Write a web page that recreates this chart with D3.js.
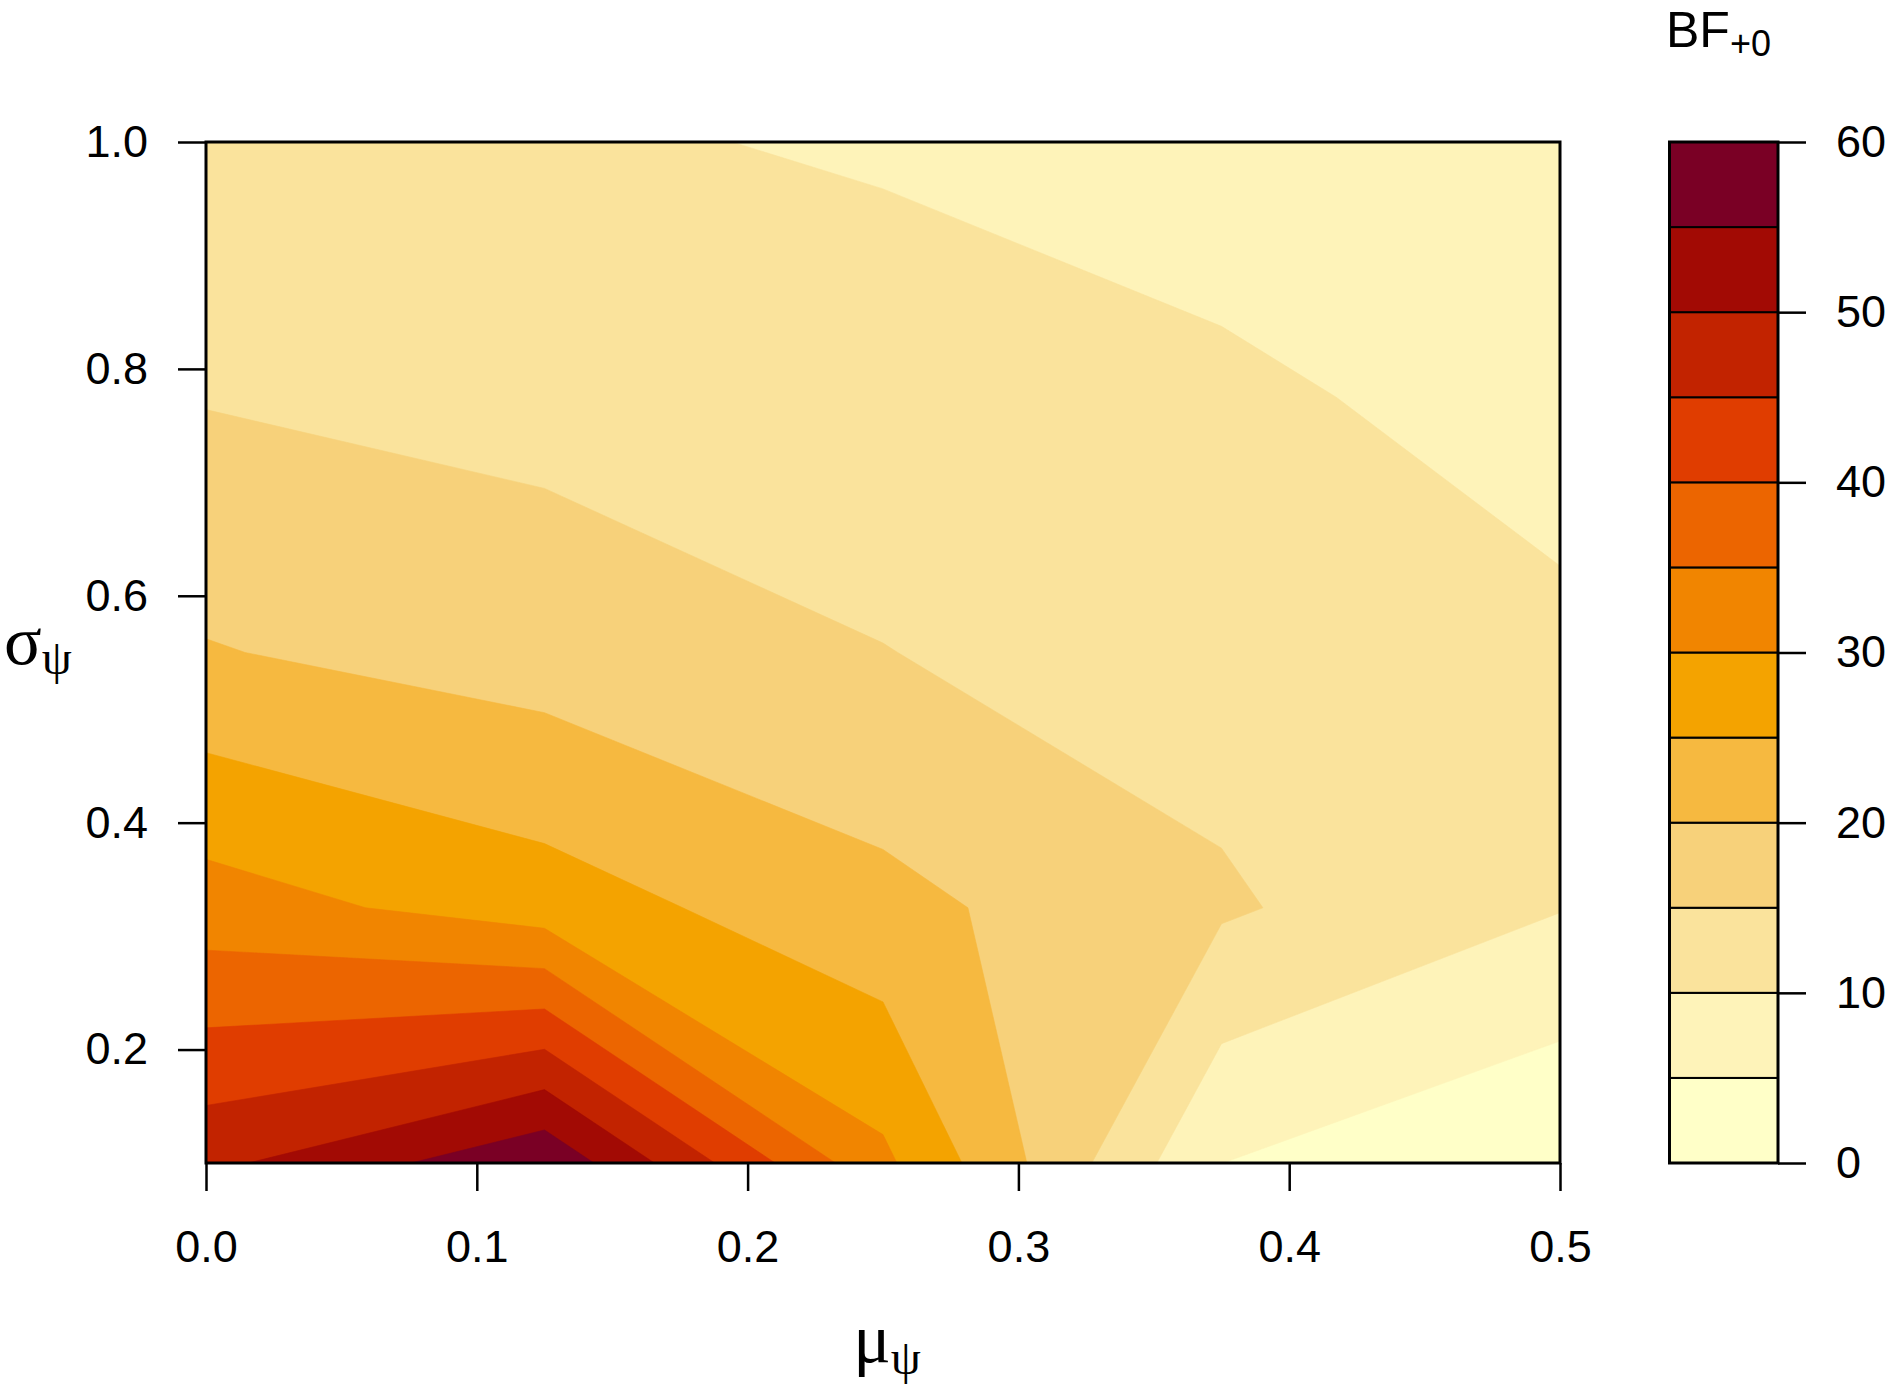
<!DOCTYPE html>
<html><head><meta charset="utf-8">
<script src="https://cdn.jsdelivr.net/npm/d3@7"></script>
<style>
html,body{margin:0;padding:0;background:#fff;}
svg{display:block;}
text{font-family:"Liberation Sans",Arial,sans-serif;fill:#000;}
.greek{font-family:"Liberation Serif","DejaVu Serif",serif;}
</style></head><body>
<svg id="chart" width="1890" height="1388"></svg>
<script>
// grid of the surface: mu (x) and sigma (y)
const muValues = [0, 0.125, 0.25, 0.375, 0.5];
const sigmaValues = [0.1, 0.325, 0.55, 0.775, 1.0];
// BF+0 values along mu, one array per sigma row
const bfSigma0100 = [48.7, 59.1, 31.07, 5.02, 0.25];
const bfSigma0325 = [32.27, 27.45, 21.45, 15.67, 10.19];
const bfSigma0550 = [20.3, 17.7, 15.1, 12.8, 11.0];
const bfSigma0775 = [14.73, 13.5, 12.4, 11.0, 8.05];
const bfSigma1000 = [12.0, 10.67, 9.46, 7.4, 6.5];
// contour levels and band colours (low to high)
const levels = [0, 5, 10, 15, 20, 25, 30, 35, 40, 45, 50, 55, 60];
const bandColors = ["#FFFFC8", "#FEF3B9", "#FAE39C", "#F7D17A", "#F6B940", "#F4A300",
                    "#F18500", "#EC6500", "#E03D00", "#C22300", "#A20A04", "#7A0025"];
const xTickValues = [0, 0.1, 0.2, 0.3, 0.4, 0.5];
const yTickValues = [0.2, 0.4, 0.6, 0.8, 1.0];
const keyTickValues = [0, 10, 20, 30, 40, 50, 60];

const svg = d3.select("#chart");
const plot = {left: 206, right: 1560, top: 142, bottom: 1163};
const key = {left: 1669.5, right: 1778};

const x = d3.scaleLinear().domain([0, 0.5]).range([plot.left, plot.right]);
const y = d3.scaleLinear().domain([0.1, 1.0]).range([plot.bottom, plot.top]);
const k = d3.scaleLinear().domain([0, 60]).range([plot.bottom, plot.top]);

// contours
const bfGrid = [bfSigma0100, bfSigma0325, bfSigma0550, bfSigma0775, bfSigma1000];
const values = bfGrid.flat();
const contours = d3.contours()
  .size([muValues.length, sigmaValues.length])
  .thresholds(levels.slice(0, -1))(values);

const gridToMu = d3.scaleLinear().domain(muValues.map((d, i) => i + 0.5)).range(muValues);
const gridToSigma = d3.scaleLinear().domain(sigmaValues.map((d, i) => i + 0.5)).range(sigmaValues);
const proj = d3.geoTransform({
  point(px, py) { this.stream.point(x(gridToMu(px)), y(gridToSigma(py))); }
});
const path = d3.geoPath(proj);

svg.append("clipPath").attr("id", "plotclip").append("rect")
  .attr("x", plot.left).attr("y", plot.top)
  .attr("width", plot.right - plot.left).attr("height", plot.bottom - plot.top);

const g = svg.append("g").attr("clip-path", "url(#plotclip)");
g.selectAll("path").data(contours).join("path")
  .attr("d", path)
  .attr("fill", (d, i) => bandColors[i])
  .attr("fill-rule", "evenodd")
  .attr("stroke", (d, i) => bandColors[i])
  .attr("stroke-width", 0.6);

// axes
const xAxis = d3.axisBottom(x).tickValues(xTickValues).tickFormat(d3.format(".1f"))
  .tickSize(28).tickPadding(39).tickSizeOuter(0);
const gx = svg.append("g").attr("transform", `translate(0,${plot.bottom})`).call(xAxis);
const yAxis = d3.axisLeft(y).tickValues(yTickValues).tickFormat(d3.format(".1f"))
  .tickSize(28).tickPadding(30).tickSizeOuter(0);
const gy = svg.append("g").attr("transform", `translate(${plot.left},0)`).call(yAxis);
[gx, gy].forEach(a => {
  a.select(".domain").remove();
  a.selectAll(".tick line").attr("stroke", "#000").attr("stroke-width", 2.5);
  a.selectAll(".tick text").attr("font-size", 45).attr("font-family", "Liberation Sans, Arial, sans-serif");
});

// plot box
svg.append("rect")
  .attr("x", plot.left).attr("y", plot.top)
  .attr("width", plot.right - plot.left).attr("height", plot.bottom - plot.top)
  .attr("fill", "none").attr("stroke", "#000").attr("stroke-width", 3);

// colour key
const bands = levels.slice(0, -1).map((lv, i) => ({lo: lv, hi: levels[i + 1], color: bandColors[i]}));
svg.append("g").selectAll("rect").data(bands).join("rect")
  .attr("x", key.left).attr("width", key.right - key.left)
  .attr("y", d => k(d.hi)).attr("height", d => k(d.lo) - k(d.hi))
  .attr("fill", d => d.color).attr("stroke", "#000").attr("stroke-width", 2);
svg.append("rect")
  .attr("x", key.left).attr("y", plot.top)
  .attr("width", key.right - key.left).attr("height", plot.bottom - plot.top)
  .attr("fill", "none").attr("stroke", "#000").attr("stroke-width", 3);
const kAxis = d3.axisRight(k).tickValues(keyTickValues).tickFormat(d3.format("d"))
  .tickSize(28).tickPadding(30).tickSizeOuter(0);
const gk = svg.append("g").attr("transform", `translate(${key.right},0)`).call(kAxis);
gk.select(".domain").remove();
gk.selectAll(".tick line").attr("stroke", "#000").attr("stroke-width", 2.5);
gk.selectAll(".tick text").attr("font-size", 45).attr("font-family", "Liberation Sans, Arial, sans-serif");

// key title BF+0
const title = svg.append("text").attr("x", 1666).attr("y", 47).attr("font-size", 50);
title.append("tspan").text("BF");
title.append("tspan").attr("font-size", 36).attr("dy", 9).text("+0");

// axis labels
const xl = svg.append("text").attr("x", 887).attr("y", 1362).attr("text-anchor", "middle");
xl.append("tspan").attr("class", "greek").attr("font-size", 70).text("\u03BC");
xl.append("tspan").attr("class", "greek").attr("font-size", 48).attr("dy", 12).text("\u03C8");

const yl = svg.append("text").attr("x", 4).attr("y", 664);
yl.append("tspan").attr("class", "greek").attr("font-size", 70).text("\u03C3");
yl.append("tspan").attr("class", "greek").attr("font-size", 48).attr("dy", 10).text("\u03C8");
</script>
</body></html>
